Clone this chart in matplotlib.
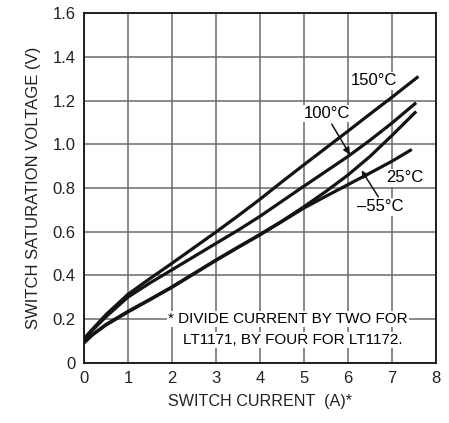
import matplotlib
matplotlib.use("Agg")
import matplotlib.pyplot as plt

plt.rcParams['font.family'] = ['Liberation Sans', 'DejaVu Sans']

# Data
x_150 = [0, 0.2, 0.5, 1, 1.5, 2, 3, 3.5, 4, 4.5, 5, 6, 6.5, 7, 7.6]
y_150 = [0.11, 0.155, 0.22, 0.313, 0.385, 0.455, 0.598, 0.672, 0.748, 0.828, 0.906, 1.06, 1.138, 1.215, 1.31]
x_100 = [0, 0.2, 0.5, 1, 1.5, 2, 3, 3.5, 4, 4.5, 5, 5.5, 6, 6.5, 7, 7.55]
y_100 = [0.105, 0.15, 0.21, 0.30, 0.365, 0.425, 0.546, 0.606, 0.670, 0.739, 0.808, 0.876, 0.944, 1.018, 1.097, 1.19]
x_m55 = [0, 0.2, 0.5, 1, 1.5, 2, 3, 3.5, 4, 4.5, 5, 5.5, 6, 6.5, 7, 7.55]
y_m55 = [0.095, 0.13, 0.175, 0.235, 0.29, 0.347, 0.47, 0.529, 0.587, 0.648, 0.714, 0.784, 0.859, 0.944, 1.040, 1.15]
x_25 = [0, 0.2, 0.5, 1, 1.5, 2, 3, 3.5, 4, 4.5, 5, 5.5, 6, 6.5, 7, 7.45]
y_25 = [0.09, 0.128, 0.172, 0.232, 0.288, 0.345, 0.468, 0.527, 0.585, 0.646, 0.708, 0.762, 0.815, 0.868, 0.922, 0.976]

x_ticks = [0, 1, 2, 3, 4, 5, 6, 7, 8]
y_ticks = [0, 0.2, 0.4, 0.6, 0.8, 1.0, 1.2, 1.4, 1.6]
y_labels = ['0', '0.2', '0.4', '0.6', '0.8', '1.0', '1.2', '1.4', '1.6']

fig = plt.figure(figsize=(4.49, 4.23), dpi=100)
ax = fig.add_axes([0.187, 0.1426, 0.784, 0.8264])
ax.set_xlim(0, 8)
ax.set_ylim(0, 1.6)
ax.set_xticks(x_ticks)
ax.set_yticks(y_ticks)
ax.set_yticklabels(y_labels)
ax.grid(True, color='#6a6a6a', linewidth=1.1)
ax.set_axisbelow(True)
ax.tick_params(length=0, labelsize=12, pad=6, colors='#222222')
for s in ax.spines.values():
    s.set_linewidth(1.3)
    s.set_color('#111111')

lw = 2.3
c = '#141414'
for xs, ys in [(x_150, y_150), (x_100, y_100), (x_m55, y_m55), (x_25, y_25)]:
    ax.plot(xs, ys, color=c, linewidth=lw, solid_capstyle='butt',
            solid_joinstyle='round', zorder=3)

wb = dict(facecolor='white', edgecolor='none', pad=1.0)
ax.text(6.60, 1.29, '150°C', fontsize=12, ha='center', va='center', bbox=wb, zorder=4)
ax.text(5.53, 1.14, '100°C', fontsize=12, ha='center', va='center', bbox=wb, zorder=4)
ax.text(7.30, 0.846, '25°C', fontsize=12, ha='center', va='center', bbox=wb, zorder=4)
ax.text(6.74, 0.714, '\u201355°C', fontsize=12, ha='center', va='center', bbox=wb, zorder=4)

ap = dict(arrowstyle='-|>', color=c, lw=1.1, mutation_scale=10, shrinkA=0, shrinkB=0)
ax.annotate('', xy=(6.045, 0.952), xytext=(5.63, 1.092), arrowprops=ap, zorder=4)
ax.annotate('', xy=(6.31, 0.88), xytext=(6.69, 0.759), arrowprops=ap, zorder=4)

ax.text(1.91, 0.2, '* DIVIDE CURRENT BY TWO FOR', fontsize=11, ha='left', va='center', bbox=wb, zorder=4)
ax.text(2.25, 0.104, 'LT1171, BY FOUR FOR LT1172.', fontsize=11, ha='left', va='center', bbox=wb, zorder=4)

ax.set_xlabel('SWITCH CURRENT  (A)*', fontsize=11.6, labelpad=6, color='#222222')
ax.set_ylabel('SWITCH SATURATION VOLTAGE (V)', fontsize=12, labelpad=8, color='#222222')

fig.savefig('out.png', dpi=100)
